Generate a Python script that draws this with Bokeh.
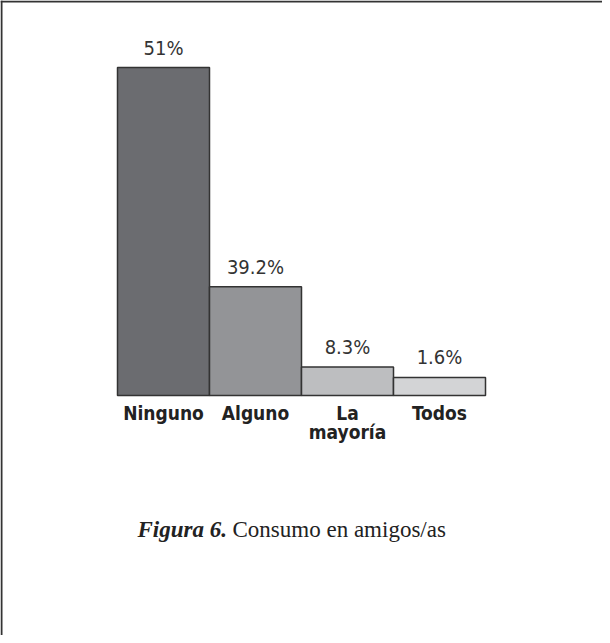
from bokeh.plotting import figure
from bokeh.models import ColumnDataSource, FactorRange, Range1d, Label, Span
from bokeh.core.properties import value
from bokeh.embed import file_html
from bokeh.resources import INLINE

# ---- data ----
categories = ["Ninguno", "Alguno", "La mayoría", "Todos"]
category_labels = ["Ninguno", "Alguno", "La\nmayoría", "Todos"]
percent_labels = ["51%", "39.2%", "8.3%", "1.6%"]
# bar heights as drawn in the reference (same scale as Ninguno = 51)
bar_heights = [51, 16.9, 4.45, 2.8]
bar_colors = ["#6b6c70", "#939497", "#bdbec0", "#d3d4d6"]
caption_bold = "Figura 6."
caption_rest = "Consumo en amigos/as"

src = ColumnDataSource(dict(cat=categories, h=bar_heights, lbl=percent_labels,
                            name=category_labels, col=bar_colors))

W, H = 602, 635
PX_PER_CAT = 92.0
PX_PER_UNIT = 328.0 / 51.0
BASE_FROM_TOP = 395.0
pad_side = (W - PX_PER_CAT * len(categories)) / 2 / PX_PER_CAT
y0 = -(H - BASE_FROM_TOP) / PX_PER_UNIT
y1 = BASE_FROM_TOP / PX_PER_UNIT

p = figure(width=W, height=H, output_backend="svg", toolbar_location=None,
           x_range=FactorRange(factors=categories, range_padding=pad_side,
                               range_padding_units="absolute"),
           y_range=Range1d(y0, y1), min_border=0)
p.axis.visible = False
p.grid.visible = False
p.outline_line_color = None
p.background_fill_color = "white"
p.border_fill_color = "white"

# page border (top and left only, as in the reference)
p.add_layout(Span(location=y1 - 1.0 / PX_PER_UNIT, dimension="width",
                  line_color="#333333", line_width=2))
p.add_layout(Span(location=-pad_side + 1.0 / PX_PER_CAT, dimension="height",
                  line_color="#333333", line_width=2))

p.vbar(x="cat", top="h", width=1.0, source=src, fill_color="col",
       line_color="#333333", line_width=1.5)

# value labels
p.text(x="cat", y="h", text="lbl", source=src, text_align="center",
       text_baseline="bottom", y_offset=-8,
       text_font=value("'Liberation Sans Narrow', 'DejaVu Sans Condensed', sans-serif"),
       text_font_size="20px", text_color="#333333")

# category labels
p.text(x="cat", y=0, text="name", source=src, text_align="center",
       text_baseline="top", y_offset=6, text_line_height=0.9,
       text_font=value("'DejaVu Sans Condensed', 'DejaVu Sans', sans-serif"),
       text_font_style="bold", text_font_size="19px", text_color="#222222")

cap_y = (BASE_FROM_TOP - 529) / PX_PER_UNIT
p.add_layout(Label(x=137, y=cap_y, x_units="screen", y_units="data", text=caption_bold,
                   text_font="'Liberation Serif', 'Times New Roman', serif",
                   text_font_style="bold italic", text_font_size="23px",
                   text_baseline="alphabetic", text_color="#222222"))
p.add_layout(Label(x=232, y=cap_y, x_units="screen", y_units="data", text=caption_rest,
                   text_font="'Liberation Serif', 'Times New Roman', serif",
                   text_font_style="normal", text_font_size="23px",
                   text_baseline="alphabetic", text_color="#222222"))

open("out.html", "w").write(file_html(p, INLINE))
